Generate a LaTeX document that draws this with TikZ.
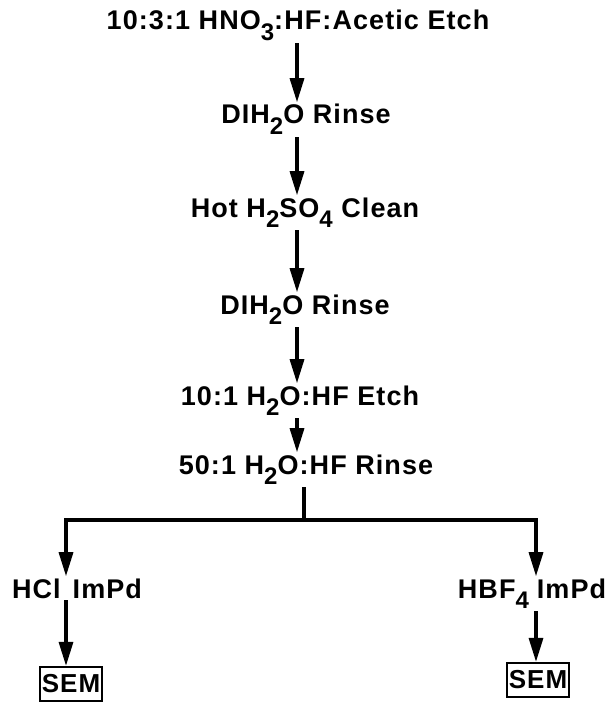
\documentclass[tikz,border=0pt]{standalone}
\usepackage{fontspec}
\newfontfamily\labfont[LetterSpace=4]{Liberation Sans}
\usetikzlibrary{arrows.meta}
\newcommand\lowsub[1]{\raisebox{-0.4em}{\fontsize{24pt}{24pt}\selectfont #1}}
\begin{document}
\begin{tikzpicture}[x=1pt,y=-1pt,
  lab/.style={font=\labfont\bfseries\fontsize{27pt}{30pt}\selectfont, anchor=base, inner sep=2pt},
  semlab/.style={draw, line width=2.2pt, font=\labfont\bfseries\fontsize{26pt}{28pt}\selectfont,
    minimum width=62pt, minimum height=34pt, inner sep=1pt},
  arr/.style={line width=3.2pt, -{Triangle[length=24pt,width=14pt]}},
  stemline/.style={line width=3.2pt}]
\useasboundingbox[fill=white] (0,0) rectangle (605,706);
\node[lab] (r1) at (298,30) {10:3:1 HNO\lowsub{3}:HF:Acetic Etch};
\node[lab] (r2) at (306,124) {DIH\lowsub{2}O Rinse};
\node[lab] (r3) at (305,217) {Hot H\lowsub{2}SO\lowsub{4} Clean};
\node[lab] (r4) at (305,314) {DIH\lowsub{2}O Rinse};
\node[lab] (r5) at (300,405) {10:1 H\lowsub{2}O:HF Etch};
\node[lab] (r6) at (306,474) {50:1 H\lowsub{2}O:HF Rinse};
\node[lab] (l7) at (77,598) {HCl\hspace{12pt}ImPd};
\node[lab] (m7) at (532,598) {HBF\lowsub{4}\hspace{8pt}ImPd};
\node[semlab] (l8) at (71,684) {SEM};
\node[semlab] (m8) at (538,680) {SEM};
\coordinate (ax) at (297,0);
\coordinate (stem) at (304,0);
\coordinate (bl) at (66,520);
\coordinate (br) at (536,520);
\draw[arr] (r1.south -| ax) -- (r2.north -| ax);
\draw[arr] (r2.south -| ax) -- (r3.north -| ax);
\draw[arr] (r3.south -| ax) -- (r4.north -| ax);
\draw[arr] (r4.south -| ax) -- (r5.north -| ax);
\draw[arr] (r5.south -| ax) -- (r6.north -| ax);
\draw[stemline] (r6.south -| stem) -- (stem |- bl);
\draw[arr] (stem |- bl) -- (bl) -- (l7.north -| bl);
\draw[arr] (stem |- br) -- (br) -- (m7.north -| br);
\draw[arr] (l7.south -| bl) -- (l8.north -| bl);
\draw[arr] (m7.south -| br) -- (m8.north -| br);
\end{tikzpicture}
\end{document}
